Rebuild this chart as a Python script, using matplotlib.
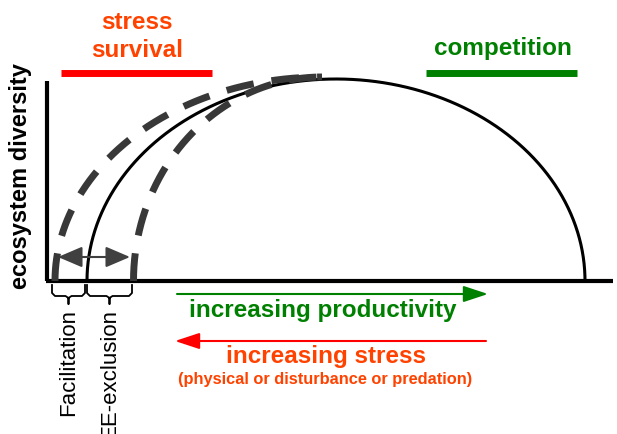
import numpy as np
import matplotlib.pyplot as plt

plt.rcParams['font.family'] = ['Liberation Sans', 'DejaVu Sans']

# arcs: (center x, half width, height) in picture units, baseline at y = 282
baseline = 282
arc_centers = [336, 322, 322]
arc_halfwidths = [249, 267, 188.5]
arc_heights = [202, 204, 204]
arc_styles = ['solid', 'dashed', 'dashed']

# text labels
top_left_lines = ['stress', 'survival']
top_right_label = 'competition'
ylabel = 'ecosystem diversity'
brace_labels = ['Facilitation', 'EE-exclusion']
brace_spans = [(52, 85), (87, 132)]
prod_label = 'increasing productivity'
stress_label = 'increasing stress'
stress_sub = '(physical or disturbance or predation)'

GREEN = '#008000'
RED = '#ff0000'
ORANGE = '#ff4200'
DARK = '#383838'

fig = plt.figure(figsize=(6.17, 4.35), dpi=100)
ax = fig.add_axes([0, 0, 1, 1])
ax.set_xlim(0, 617)
ax.set_ylim(435, 0)
ax.axis('off')

# axes lines
ax.plot([47, 47], [82, baseline], color='black', lw=3, solid_capstyle='butt')
ax.plot([45.5, 613], [baseline, baseline], color='black', lw=3, solid_capstyle='butt')

# arcs
for c, rx, ry, st in zip(arc_centers, arc_halfwidths, arc_heights, arc_styles):
    if st == 'solid':
        t = np.linspace(np.pi, 0, 400)
        ax.plot(c + rx * np.cos(t), baseline - ry * np.sin(t), color='black', lw=2.2, zorder=2)
    else:
        t = np.linspace(np.pi, np.pi / 2, 400)
        ax.plot(c + rx * np.cos(t), baseline - ry * np.sin(t), color=DARK, lw=5,
                linestyle=(0, (4.0, 2.6)), zorder=3)

# double arrow between dashed arc feet
ax.annotate('', xy=(58, 258), xytext=(130, 258),
            arrowprops=dict(arrowstyle='<|-|>,head_length=0.75,head_width=0.32', color='#404040',
                            lw=1.5, mutation_scale=20, shrinkA=0, shrinkB=0), zorder=4)

# braces
for (x0, x1), lab in zip(brace_spans, brace_labels):
    m = (x0 + x1) / 2
    xs = [x0, x0, x0 + 3, m - 3, m, m, m, m + 3, x1 - 3, x1, x1]
    ys = [286, 294, 297, 297, 299, 305, 299, 297, 297, 294, 286]
    ax.plot(xs, ys, color='black', lw=1.3, solid_joinstyle='round')
    ax.text(m, 309, lab, rotation=90, ha='center', va='top', fontsize=16, color='black')

# header bars and labels
ax.plot([61, 212], [74, 74], color=RED, lw=5, solid_capstyle='butt')
ax.plot([426, 577], [74, 74], color=GREEN, lw=5, solid_capstyle='butt')
ax.text(137, 29, top_left_lines[0], ha='center', va='baseline', fontsize=17.5,
        fontweight='bold', color=ORANGE)
ax.text(137, 57, top_left_lines[1], ha='center', va='baseline', fontsize=17.5,
        fontweight='bold', color=ORANGE)
ax.text(503, 55, top_right_label, ha='center', va='baseline', fontsize=17.5,
        fontweight='bold', color=GREEN)

ax.text(21, 176, ylabel, rotation=90, ha='center', va='center', fontsize=17,
        fontweight='bold', color='black')

# gradient arrows
ax.annotate('', xy=(488, 295), xytext=(177, 295),
            arrowprops=dict(arrowstyle='-|>,head_length=1.0,head_width=0.33', color=GREEN,
                            lw=1.5, mutation_scale=15, shrinkA=0, shrinkB=0))
ax.annotate('', xy=(175, 342), xytext=(486, 342),
            arrowprops=dict(arrowstyle='-|>,head_length=1.0,head_width=0.33', color=RED,
                            lw=1.5, mutation_scale=15, shrinkA=0, shrinkB=0))

ax.text(323, 317, prod_label, ha='center', va='baseline', fontsize=17.5,
        fontweight='bold', color=GREEN)
ax.text(326, 363, stress_label, ha='center', va='baseline', fontsize=17.5,
        fontweight='bold', color=ORANGE)
ax.text(325, 384, stress_sub, ha='center', va='baseline', fontsize=11.8,
        fontweight='bold', color=ORANGE)

fig.savefig('out.png', dpi=100)
